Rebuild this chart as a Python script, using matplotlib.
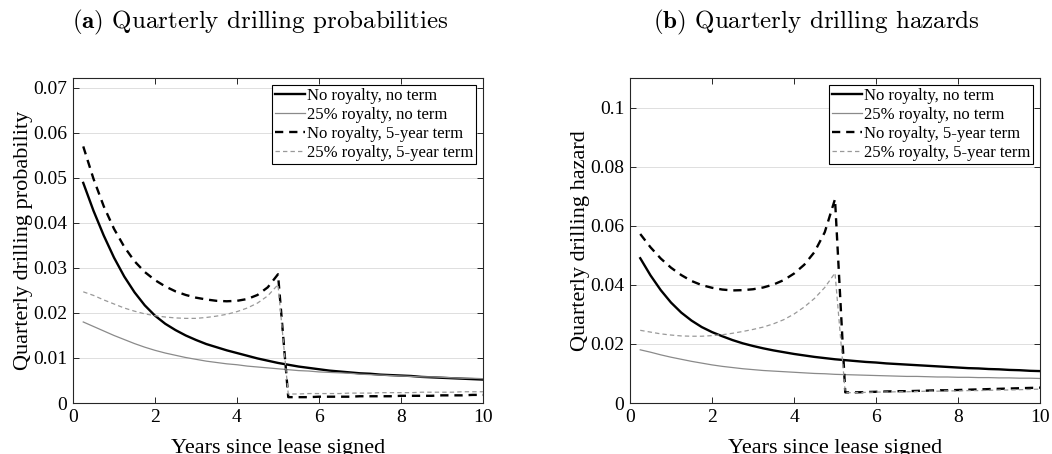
import numpy as np
import matplotlib
matplotlib.use("Agg")
import matplotlib.pyplot as plt
from matplotlib.ticker import FuncFormatter

plt.rcParams['mathtext.fontset'] = 'cm'

years = np.arange(1, 41) / 4.0

prob_noroy_noterm = [0.0489, 0.0427, 0.0372, 0.0323, 0.0281, 0.0246, 0.0217, 0.0194, 0.0176, 0.0162,
                     0.0150, 0.0140, 0.0131, 0.0124, 0.0117, 0.0111, 0.0105, 0.0099, 0.0094, 0.0089,
                     0.0085, 0.0081, 0.0078, 0.0075, 0.0072, 0.0070, 0.0068, 0.0066, 0.0065, 0.0063,
                     0.0062, 0.0061, 0.0060, 0.0058, 0.0057, 0.0056, 0.0055, 0.0054, 0.0053, 0.0052]
prob_roy_noterm = [0.0180, 0.0170, 0.0160, 0.0150, 0.0141, 0.0132, 0.0124, 0.0117, 0.0111, 0.0106,
                   0.0101, 0.0097, 0.0093, 0.0090, 0.0087, 0.0085, 0.0082, 0.0080, 0.0078, 0.0076,
                   0.0074, 0.0072, 0.0071, 0.0069, 0.0068, 0.0067, 0.0066, 0.0064, 0.0063, 0.0062,
                   0.0061, 0.0060, 0.0059, 0.0058, 0.0058, 0.0057, 0.0056, 0.0055, 0.0055, 0.0054]
prob_noroy_term = [0.0570, 0.0498, 0.0437, 0.0387, 0.0347, 0.0315, 0.0291, 0.0273, 0.0259, 0.0248,
                   0.0240, 0.0234, 0.0230, 0.0227, 0.0226, 0.0227, 0.0231, 0.0240, 0.0257, 0.0286,
                   0.0013, 0.0013, 0.0013, 0.0014, 0.0014, 0.0014, 0.0014, 0.0015, 0.0015, 0.0015,
                   0.0015, 0.0016, 0.0016, 0.0016, 0.0016, 0.0017, 0.0017, 0.0017, 0.0018, 0.0018]
prob_roy_term = [0.0247, 0.0239, 0.0229, 0.0220, 0.0211, 0.0204, 0.0198, 0.0194, 0.0191, 0.0189,
                 0.0188, 0.0188, 0.0190, 0.0193, 0.0197, 0.0203, 0.0211, 0.0222, 0.0238, 0.0263,
                 0.0020, 0.0020, 0.0021, 0.0021, 0.0021, 0.0021, 0.0022, 0.0022, 0.0022, 0.0023,
                 0.0023, 0.0023, 0.0023, 0.0024, 0.0024, 0.0024, 0.0024, 0.0025, 0.0025, 0.0025]

haz_noroy_noterm = [0.0490, 0.0432, 0.0382, 0.0340, 0.0306, 0.0279, 0.0257, 0.0240, 0.0226, 0.0213,
                    0.0202, 0.0193, 0.0185, 0.0178, 0.0172, 0.0166, 0.0161, 0.0156, 0.0152, 0.0148,
                    0.0145, 0.0142, 0.0139, 0.0137, 0.0134, 0.0132, 0.0130, 0.0128, 0.0126, 0.0124,
                    0.0122, 0.0120, 0.0118, 0.0117, 0.0115, 0.0114, 0.0112, 0.0111, 0.0109, 0.0108]
haz_roy_noterm = [0.0180, 0.0172, 0.0163, 0.0155, 0.0148, 0.0141, 0.0135, 0.0129, 0.0124, 0.0120,
                  0.0116, 0.0113, 0.0110, 0.0108, 0.0106, 0.0104, 0.0102, 0.0100, 0.0099, 0.0097,
                  0.0096, 0.0095, 0.0094, 0.0093, 0.0092, 0.0091, 0.0090, 0.0090, 0.0089, 0.0088,
                  0.0088, 0.0087, 0.0087, 0.0086, 0.0086, 0.0085, 0.0085, 0.0084, 0.0084, 0.0083]
haz_noroy_term = [0.0572, 0.0527, 0.0489, 0.0458, 0.0433, 0.0413, 0.0399, 0.0390, 0.0384, 0.0381,
                  0.0382, 0.0385, 0.0391, 0.0401, 0.0416, 0.0438, 0.0468, 0.0511, 0.0578, 0.0690,
                  0.0036, 0.0036, 0.0037, 0.0038, 0.0039, 0.0040, 0.0040, 0.0041, 0.0042, 0.0043,
                  0.0043, 0.0044, 0.0045, 0.0046, 0.0047, 0.0048, 0.0049, 0.0050, 0.0051, 0.0052]
haz_roy_term = [0.0246, 0.0240, 0.0234, 0.0230, 0.0227, 0.0226, 0.0226, 0.0228, 0.0231, 0.0236,
                0.0242, 0.0249, 0.0257, 0.0268, 0.0282, 0.0301, 0.0325, 0.0354, 0.0391, 0.0440,
                0.0035, 0.0035, 0.0036, 0.0037, 0.0037, 0.0038, 0.0038, 0.0039, 0.0040, 0.0040,
                0.0041, 0.0041, 0.0042, 0.0042, 0.0043, 0.0044, 0.0044, 0.0045, 0.0046, 0.0047]

labels = ["No royalty, no term", "25% royalty, no term",
          "No royalty, 5-year term", "25% royalty, 5-year term"]
titles = [r"$\mathbf{(a)}$ Quarterly drilling probabilities",
          r"$\mathbf{(b)}$ Quarterly drilling hazards"]
ylabels = ["Quarterly drilling probability", "Quarterly drilling hazard"]
xlabel = "Years since lease signed"
yticks_a = [0, 0.01, 0.02, 0.03, 0.04, 0.05, 0.06, 0.07]
yticks_b = [0, 0.02, 0.04, 0.06, 0.08, 0.1]
xticks = [0, 2, 4, 6, 8, 10]

fig = plt.figure(figsize=(10.52, 4.54), dpi=100)
axa = fig.add_axes([73/1052, 51/454, 410/1052, 325/454])
axb = fig.add_axes([630/1052, 51/454, 410/1052, 325/454])

serif = 'Liberation Serif'
fmt = FuncFormatter(lambda v, p: ('%g' % round(v, 4)))

def draw(ax, series, yticks, ylim, ylabel):
    s1, s2, s3, s4 = series
    ax.plot(years, s1, color='black', lw=1.7, label=labels[0])
    ax.plot(years, s2, color='#8a8a8a', lw=0.9, label=labels[1])
    ax.plot(years, s3, color='black', lw=1.7, ls=(0, (3.5, 2.5)), label=labels[2])
    ax.plot(years, s4, color='#999999', lw=0.9, ls=(0, (3.5, 2.5)), label=labels[3])
    ax.set_xlim(0, 10)
    ax.set_ylim(0, ylim)
    ax.set_xticks(xticks)
    ax.set_yticks(yticks)
    ax.yaxis.set_major_formatter(fmt)
    ax.grid(axis='y', color='#dedede', lw=0.7)
    ax.set_axisbelow(True)
    ax.tick_params(direction='in', top=True, right=True, length=4, width=0.7,
                   color='#262626', labelsize=14, pad=4)
    for lab in ax.get_xticklabels() + ax.get_yticklabels():
        lab.set_fontfamily(serif)
    for sp in ax.spines.values():
        sp.set_color('#262626')
        sp.set_linewidth(0.8)
    ax.set_ylabel(ylabel, fontfamily=serif, fontsize=16, labelpad=0)
    ax.set_xlabel(xlabel, fontfamily=serif, fontsize=16, labelpad=10)
    leg = ax.legend(loc='upper right', prop={'family': serif, 'size': 12},
                    frameon=True, fancybox=False, edgecolor='black', framealpha=1,
                    handlelength=1.8, handletextpad=0.1, borderpad=0.2,
                    labelspacing=0.17, borderaxespad=0.4)
    leg.get_frame().set_linewidth(0.8)

draw(axa, [prob_noroy_noterm, prob_roy_noterm, prob_noroy_term, prob_roy_term],
     yticks_a, 0.0722, ylabels[0])
draw(axb, [haz_noroy_noterm, haz_roy_noterm, haz_noroy_term, haz_roy_term],
     yticks_b, 0.110, ylabels[1])

fig.text(260/1052, 1 - 22/454, titles[0], fontfamily='cmr10', fontsize=18,
         ha='center', va='center')
fig.text(816/1052, 1 - 22/454, titles[1], fontfamily='cmr10', fontsize=18,
         ha='center', va='center')

fig.savefig("out.png", dpi=100)
